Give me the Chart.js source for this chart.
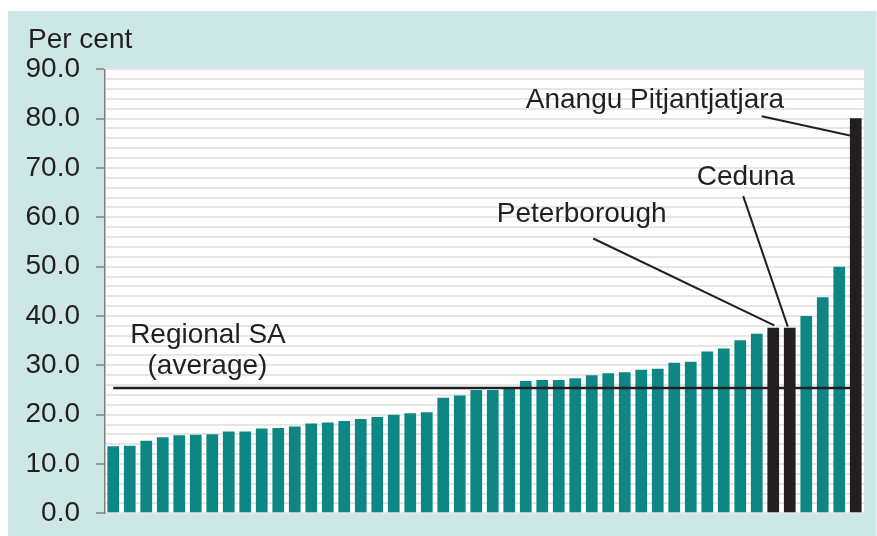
<!DOCTYPE html>
<html>
<head>
<meta charset="utf-8">
<script src="https://cdn.jsdelivr.net/npm/chart.js@4.4.1/dist/chart.umd.min.js"></script>
<style>
    html, body { margin: 0; padding: 0; background: #fff; }
    canvas { display: block; }
</style>
</head>
<body>
<canvas id="lgaChart" width="877" height="536"></canvas>
<script>
// Share of population, per cent, one bar per regional SA area (sorted)
const regions = [
    '', '', '', '', '', '', '', '', '', '',
    '', '', '', '', '', '', '', '', '', '',
    '', '', '', '', '', '', '', '', '', '',
    '', '', '', '', '', '', '', '', '', '',
    'Peterborough', 'Ceduna', '', '', '', 'Anangu Pitjantjatjara'
];
const values = [
    13.6, 13.7, 14.7, 15.4, 15.8, 15.9, 16.0, 16.6, 16.6, 17.2,
    17.3, 17.6, 18.2, 18.4, 18.7, 19.1, 19.5, 20.0, 20.3, 20.5,
    23.4, 23.9, 25.0, 25.0, 25.4, 26.8, 27.0, 27.0, 27.4, 28.0,
    28.4, 28.6, 29.1, 29.3, 30.5, 30.7, 32.8, 33.4, 35.1, 36.4,
    37.6, 37.6, 40.0, 43.8, 50.0, 80.1
];
const highlighted = ['Peterborough', 'Ceduna', 'Anangu Pitjantjatjara'];
const regionalAverage = 25.4;
const yTicks = [0, 10, 20, 30, 40, 50, 60, 70, 80, 90];

const TEAL = '#0e8784';
const DARK = '#231f20';
const FONT = '"Liberation Sans", Arial, sans-serif';

// text labels and leader lines, in chart units (category index, per cent)
const labels = [
    { text: 'Regional SA', x: 5.74, y: 34.6 },
    { text: '(average)', x: 5.71, y: 28.2 },
    { text: 'Peterborough', x: 28.39, y: 59.1 },
    { text: 'Ceduna', x: 38.34, y: 66.5 },
    { text: 'Anangu Pitjantjatjara', x: 32.83, y: 82.2 }
];
const leaders = [
    { from: [29.09, 55.7], to: [40.06, 38.1] },
    { from: [38.18, 64.3], to: [40.88, 37.85] },
    { from: [39.3, 80.5], to: [44.65, 76.6] }
];

const backdrop = {
    id: 'backdrop',
    beforeDraw(chart) {
        const { ctx, chartArea: a } = chart;
        ctx.save();
        ctx.fillStyle = '#ffffff';
        ctx.fillRect(0, 0, chart.width, chart.height);
        ctx.fillStyle = '#cde6e6';
        ctx.fillRect(8, 11, chart.width - 8.5, chart.height - 11);
        ctx.fillStyle = '#ffffff';
        ctx.fillRect(a.left, a.top, a.right - a.left, a.bottom - a.top);
        ctx.fillStyle = DARK;
        ctx.font = `28px ${FONT}`;
        ctx.textAlign = 'left';
        ctx.textBaseline = 'alphabetic';
        ctx.fillText('Per cent', 28, 48);
        ctx.restore();
    }
};

const notes = {
    id: 'notes',
    afterDatasetsDraw(chart) {
        const { ctx, scales: { x, y } } = chart;
        ctx.save();
        ctx.strokeStyle = DARK;
        ctx.lineWidth = 2.5;
        const ay = y.getPixelForValue(regionalAverage);
        ctx.beginPath();
        ctx.moveTo(x.getPixelForValue(0), ay);
        ctx.lineTo(x.getPixelForValue(values.length - 1), ay);
        ctx.stroke();

        ctx.lineWidth = 2;
        leaders.forEach(l => {
            ctx.beginPath();
            ctx.moveTo(x.getPixelForValue(l.from[0]), y.getPixelForValue(l.from[1]));
            ctx.lineTo(x.getPixelForValue(l.to[0]), y.getPixelForValue(l.to[1]));
            ctx.stroke();
        });

        ctx.fillStyle = DARK;
        ctx.font = `28px ${FONT}`;
        ctx.textAlign = 'center';
        ctx.textBaseline = 'alphabetic';
        labels.forEach(t => {
            ctx.fillText(t.text, x.getPixelForValue(t.x), y.getPixelForValue(t.y));
        });
        ctx.restore();
    }
};

new Chart(document.getElementById('lgaChart'), {
    type: 'bar',
    data: {
        labels: regions,
        datasets: [{
            data: values,
            backgroundColor: regions.map(r => highlighted.includes(r) ? DARK : TEAL),
            barPercentage: 0.71,
            categoryPercentage: 1.0
        }]
    },
    options: {
        responsive: false,
        animation: false,
        layout: { padding: { top: 69.3, right: 13, bottom: 22.7, left: 0 } },
        plugins: { legend: { display: false }, tooltip: { enabled: false } },
        scales: {
            x: { display: false },
            y: {
                min: 0,
                max: 90,
                afterFit(scale) {
                    scale.width = 105;
                    scale.paddingTop = 0;
                    scale.paddingBottom = 0;
                },
                border: { display: true, color: '#808080', width: 1.5 },
                grid: {
                    color: '#e6e6e6',
                    lineWidth: 2,
                    tickLength: 9,
                    tickWidth: 1.5,
                    tickColor: c => yTicks.includes(c.tick.value) ? '#808080' : 'rgba(0,0,0,0)'
                },
                ticks: {
                    stepSize: 2,
                    autoSkip: false,
                    padding: 16,
                    color: DARK,
                    font: { family: FONT, size: 28 },
                    callback: v => yTicks.includes(v) ? v.toFixed(1) : ''
                }
            }
        }
    },
    plugins: [backdrop, notes]
});
</script>
</body>
</html>
